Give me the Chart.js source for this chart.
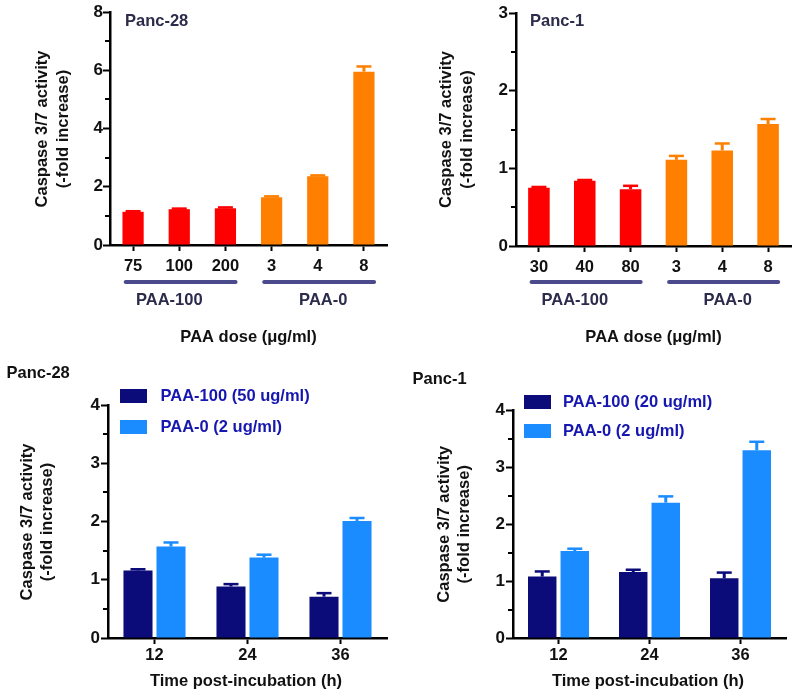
<!DOCTYPE html>
<html><head><meta charset="utf-8">
<script src="https://cdn.jsdelivr.net/npm/chart.js@4/dist/chart.umd.min.js"></script>
<style>
html,body{margin:0;padding:0;background:#fff;}
#wrap{position:relative;width:800px;height:698px;overflow:hidden;background:#fff;}
.p{position:absolute;}
</style></head><body>
<div id="wrap">
<div class="p" style="left:0;top:340px;"><canvas id="c3" width="400" height="358"></canvas></div>
<div class="p" style="left:400px;top:340px;"><canvas id="c4" width="400" height="358"></canvas></div>
<div class="p" style="left:0;top:0;"><canvas id="c1" width="400" height="360"></canvas></div>
<div class="p" style="left:400px;top:0;"><canvas id="c2" width="400" height="360"></canvas></div>
</div>
<script>
const FONT = "'Liberation Sans', Arial, Helvetica, sans-serif";

// ---- Data ----
const panc28DoseLabels = ['75', '100', '200', '3', '4', '8'];
const panc28DoseValues = [1.14, 1.23, 1.26, 1.64, 2.36, 5.95];
const panc28DoseErrors = [0.02, 0.02, 0.03, 0.03, 0.03, 0.18];

const panc1DoseLabels = ['30', '40', '80', '3', '4', '8'];
const panc1DoseValues = [0.75, 0.84, 0.73, 1.11, 1.23, 1.57];
const panc1DoseErrors = [0.01, 0.01, 0.045, 0.05, 0.09, 0.065];

const doseGroupNames = ['PAA-100', 'PAA-0'];
const doseGroupIndex = [[0, 2], [3, 5]];

const timeLabels = ['12', '24', '36'];
const panc28Paa100 = [1.16, 0.885, 0.71];
const panc28Paa100Err = [0.02, 0.04, 0.06];
const panc28Paa0 = [1.57, 1.38, 2.01];
const panc28Paa0Err = [0.07, 0.05, 0.05];

const panc1Paa100 = [1.08, 1.16, 1.05];
const panc1Paa100Err = [0.09, 0.04, 0.10];
const panc1Paa0 = [1.53, 2.38, 3.30];
const panc1Paa0Err = [0.04, 0.11, 0.15];

const panc28SeriesNames = ['PAA-100 (50 ug/ml)', 'PAA-0 (2 ug/ml)'];
const panc1SeriesNames = ['PAA-100 (20 ug/ml)', 'PAA-0 (2 ug/ml)'];

const yTitleLines = ['Caspase 3/7 activity', '(-fold increase)'];
const doseAxisTitle = 'PAA dose (\u03bcg/ml)';
const timeAxisTitle = 'Time post-incubation (h)';

// ---- Colors ----
const RED = '#ff0000', ORANGE = '#ff8000', NAVY = '#0b0b7a', LIGHT = '#1a8cff';
const GROUPLINE = '#4a4a8c', DARKTXT = '#2b2b4b', LEGTXT = '#1616b0';

function txt(ctx, s, x, y, size, color, align, rot) {
  ctx.save();
  ctx.font = 'bold ' + size + 'px ' + FONT;
  ctx.fillStyle = color;
  ctx.textAlign = align || 'center';
  ctx.textBaseline = 'middle';
  ctx.translate(x, y);
  if (rot) ctx.rotate(rot);
  ctx.fillText(s, 0, 0);
  ctx.restore();
}

function overlayPlugin(cfg) {
  return {
    id: 'overlay_' + Math.random().toString(36).slice(2),
    afterDatasetsDraw(chart) {
      const ctx = chart.ctx, ys = chart.scales.y;
      chart.data.datasets.forEach((ds, i) => {
        const meta = chart.getDatasetMeta(i);
        const errs = cfg.errors[i];
        meta.data.forEach((bar, j) => {
          const yt = ys.getPixelForValue(ds.data[j] + errs[j]);
          const col = Array.isArray(ds.backgroundColor) ? ds.backgroundColor[j] : ds.backgroundColor;
          ctx.save();
          ctx.strokeStyle = col;
          ctx.lineWidth = 3;
          ctx.beginPath(); ctx.moveTo(bar.x, bar.y); ctx.lineTo(bar.x, yt); ctx.stroke();
          ctx.lineWidth = 2.5;
          ctx.beginPath(); ctx.moveTo(bar.x - 7.5, yt); ctx.lineTo(bar.x + 7.5, yt); ctx.stroke();
          ctx.restore();
        });
      });
    },
    afterDraw(chart) {
      const ctx = chart.ctx, ys = chart.scales.y, xs = chart.scales.x, ca = chart.chartArea;
      ctx.save();
      ctx.strokeStyle = '#000'; ctx.lineWidth = 2;
      cfg.minor.forEach(v => {
        const y = Math.round(ys.getPixelForValue(v));
        ctx.beginPath(); ctx.moveTo(ca.left - 5, y); ctx.lineTo(ca.left, y); ctx.stroke();
      });
      ctx.restore();
      txt(ctx, cfg.title.text, cfg.title.x, cfg.title.y, 16.5, cfg.title.color, 'left');
      const cy = (ca.top + ca.bottom) / 2 + cfg.yTitle.dy;
      txt(ctx, yTitleLines[0], cfg.yTitle.x1, cy, 16.5, '#111', 'center', -Math.PI / 2);
      txt(ctx, yTitleLines[1], cfg.yTitle.x2, cy, 16.5, '#111', 'center', -Math.PI / 2);
      txt(ctx, cfg.xTitle.text, (ca.left + ca.right) / 2 + cfg.xTitle.dx, cfg.xTitle.y, 16.5, '#111', 'center');
      if (cfg.groups) {
        const cw = xs.getPixelForValue(1) - xs.getPixelForValue(0);
        doseGroupIndex.forEach((g, k) => {
          const x1 = xs.getPixelForValue(g[0]) - 0.16 * cw;
          const x2 = xs.getPixelForValue(g[1]) + 0.22 * cw;
          ctx.save();
          ctx.strokeStyle = GROUPLINE; ctx.lineWidth = 4; ctx.lineCap = 'round';
          ctx.beginPath(); ctx.moveTo(x1, cfg.groups.lineY); ctx.lineTo(x2, cfg.groups.lineY); ctx.stroke();
          ctx.restore();
          const mid = (xs.getPixelForValue(g[0]) + xs.getPixelForValue(g[1])) / 2 + (k === 0 ? -10 : 5.5);
          txt(ctx, doseGroupNames[k], mid, cfg.groups.labelY, 16.5, DARKTXT, 'center');
        });
      }
      if (cfg.legend) {
        chart.data.datasets.forEach((ds, i) => {
          const L = cfg.legend;
          ctx.save();
          ctx.fillStyle = ds.backgroundColor;
          ctx.fillRect(L.x, L.y[i], 27, 14);
          ctx.restore();
          txt(ctx, ds.label, L.tx, L.y[i] + 7, 16.5, LEGTXT, 'left');
        });
      }
    }
  };
}

function makeChart(id, labels, datasets, o) {
  const majorSet = o.major;
  return new Chart(document.getElementById(id), {
    type: 'bar',
    data: { labels: labels, datasets: datasets },
    options: {
      responsive: false,
      animation: false,
      events: [],
      layout: { padding: { left: 0, right: o.padRight, top: o.padTop, bottom: 0 } },
      plugins: { legend: { display: false }, tooltip: { enabled: false }, title: { display: false } },
      datasets: { bar: { categoryPercentage: o.catPct, barPercentage: o.barPct } },
      scales: {
        x: {
          offset: true,
          grid: { display: true, drawOnChartArea: false, offset: false, tickLength: 6, tickWidth: 2, tickColor: '#000' },
          border: { display: true, color: '#000', width: 2.5 },
          ticks: { color: '#111', font: { family: FONT, size: 16.5, weight: 'bold' }, padding: o.xPad, maxRotation: 0, autoSkip: false },
          afterFit(s) { s.height = o.xHeight; }
        },
        y: {
          min: 0, max: o.max,
          grid: { display: true, drawOnChartArea: false, tickLength: 7, tickWidth: 2,
                  tickColor: c => (c.tick && majorSet.includes(c.tick.value)) ? '#000' : 'rgba(0,0,0,0)' },
          border: { display: true, color: '#000', width: 2.5 },
          ticks: { stepSize: o.minorStep, color: '#111', font: { family: FONT, size: 17, weight: 'bold' }, padding: o.yPad,
                   callback: v => majorSet.includes(v) ? String(v) : '' },
          afterFit(s) { s.width = o.yWidth; }
        }
      }
    },
    plugins: [overlayPlugin(o.overlay)]
  });
}

// Top-left: Panc-28 dose
makeChart('c1', panc28DoseLabels, [{
  label: 'Panc-28', data: panc28DoseValues,
  backgroundColor: [RED, RED, RED, ORANGE, ORANGE, ORANGE]
}], {
  max: 8, minorStep: 1, major: [0, 2, 4, 6, 8],
  padRight: 13, padTop: 12, xHeight: 115, yWidth: 110, xPad: 6, yPad: 0,
  catPct: 1, barPct: 0.46,
  overlay: {
    errors: [panc28DoseErrors], minor: [1, 3, 5, 7],
    title: { text: 'Panc-28', x: 125, y: 21.5, color: DARKTXT },
    yTitle: { x1: 42, x2: 63, dy: 0.5 },
    xTitle: { text: doseAxisTitle, y: 337, dx: 0 },
    groups: { lineY: 282, labelY: 300 }
  }
});

// Top-right: Panc-1 dose
makeChart('c2', panc1DoseLabels, [{
  label: 'Panc-1', data: panc1DoseValues,
  backgroundColor: [RED, RED, RED, ORANGE, ORANGE, ORANGE]
}], {
  max: 3, minorStep: 0.5, major: [0, 1, 2, 3],
  padRight: 9, padTop: 13, xHeight: 114, yWidth: 116, xPad: 6, yPad: 1,
  catPct: 1, barPct: 0.47,
  overlay: {
    errors: [panc1DoseErrors], minor: [0.5, 1.5, 2.5],
    title: { text: 'Panc-1', x: 130, y: 21.5, color: DARKTXT },
    yTitle: { x1: 46, x2: 67, dy: 0 },
    xTitle: { text: doseAxisTitle, y: 337, dx: 0 },
    groups: { lineY: 282, labelY: 300 }
  }
});

// Bottom-left: Panc-28 time
makeChart('c3', timeLabels, [
  { label: panc28SeriesNames[0], data: panc28Paa100, backgroundColor: NAVY },
  { label: panc28SeriesNames[1], data: panc28Paa0, backgroundColor: LIGHT }
], {
  max: 4, minorStep: 0.5, major: [0, 1, 2, 3, 4],
  padRight: 13, padTop: 65, xHeight: 60, yWidth: 108, xPad: 2, yPad: 1,
  catPct: 0.71, barPct: 0.88,
  overlay: {
    errors: [panc28Paa100Err, panc28Paa0Err], minor: [0.5, 1.5, 2.5, 3.5],
    title: { text: 'Panc-28', x: 6.5, y: 33.5, color: '#111' },
    yTitle: { x1: 27, x2: 47, dy: 0.5 },
    xTitle: { text: timeAxisTitle, y: 341, dx: -1.5 },
    legend: { x: 120, y: [49, 80], tx: 160.5 }
  }
});

// Bottom-right: Panc-1 time
makeChart('c4', timeLabels, [
  { label: panc1SeriesNames[0], data: panc1Paa100, backgroundColor: NAVY },
  { label: panc1SeriesNames[1], data: panc1Paa0, backgroundColor: LIGHT }
], {
  max: 4, minorStep: 0.5, major: [0, 1, 2, 3, 4],
  padRight: 14, padTop: 70.5, xHeight: 60, yWidth: 113, xPad: 2, yPad: 1,
  catPct: 0.715, barPct: 0.875,
  overlay: {
    errors: [panc1Paa100Err, panc1Paa0Err], minor: [0.5, 1.5, 2.5, 3.5],
    title: { text: 'Panc-1', x: 12.5, y: 39, color: '#111' },
    yTitle: { x1: 44, x2: 64, dy: 0 },
    xTitle: { text: timeAxisTitle, y: 341, dx: -1.5 },
    legend: { x: 124, y: [55, 84], tx: 163 }
  }
});
</script>
</body></html>
